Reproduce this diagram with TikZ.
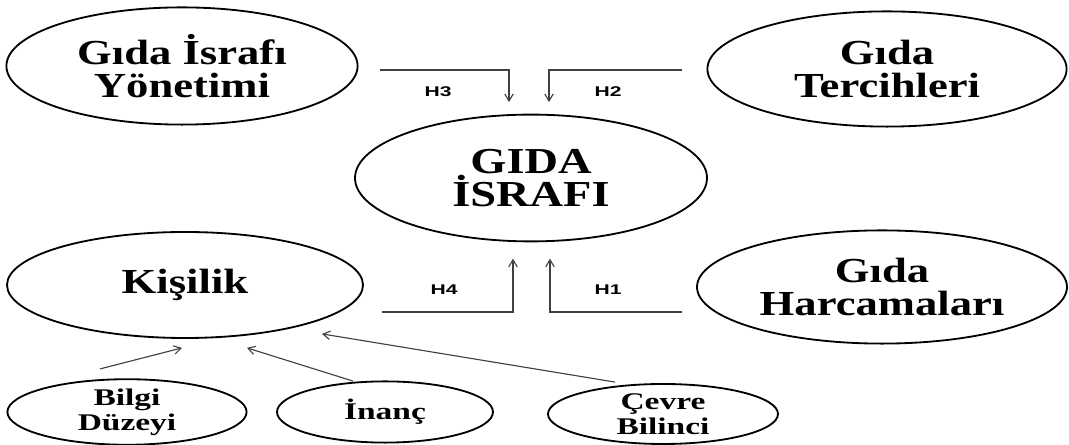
\documentclass[tikz,border=0pt]{standalone}
\usepackage{fontspec}
\setmainfont[FakeStretch=1.27]{Liberation Serif}
\newfontfamily\smallserif[FakeStretch=1.4]{Liberation Serif}
\newfontfamily\hfont[FakeStretch=1.5]{Liberation Sans}
\usetikzlibrary{shapes.geometric,arrows.meta}

\begin{document}
\begin{tikzpicture}[
    factor/.style={ellipse, draw, line width=1.3pt, inner sep=0pt, align=center,
        font=\bfseries\fontsize{25}{23.5}\selectfont},
    smallfactor/.style={factor, font=\smallserif\bfseries\fontsize{17}{17.5}\selectfont},
    hyp/.style={-{Straight Barb[length=5pt,width=6pt]}, draw=black!75, line width=0.8pt},
    hlabel/.style={font=\hfont\bfseries\fontsize{10}{12}\selectfont}
]
    \useasboundingbox (0,0) rectangle (26.725,11.125);

    % Top row
    \node[factor, minimum width=8.78cm, minimum height=2.93cm] (yonetim) at (4.55,9.475) {Gıda İsrafı\\Yönetimi};
    \node[factor, minimum width=8.98cm, minimum height=2.88cm] (tercih) at (22.175,9.4) {Gıda\\Tercihleri};

    % Centre
    \node[factor, minimum width=8.8cm, minimum height=3.17cm,
        font=\bfseries\fontsize{26}{24}\selectfont] (israf) at (13.275,6.675) {GIDA\\İSRAFI};

    % Lower row
    \node[factor, minimum width=8.9cm, minimum height=2.65cm] (kisilik) at (4.625,4.0) {Kişilik};
    \node[factor, minimum width=9.25cm, minimum height=2.83cm] (harcama) at (22.05,3.95) {Gıda\\Harcamaları};

    % Personality factors
    \node[smallfactor, minimum width=5.98cm, minimum height=1.53cm] (bilgi) at (3.175,0.825) {Bilgi\\Düzeyi};
    \node[smallfactor, minimum width=5.4cm, minimum height=1.53cm] (inanc) at (9.625,0.825) {İnanç};
    \node[smallfactor, minimum width=5.75cm, minimum height=1.5cm] (cevre) at (16.575,0.775) {Çevre\\Bilinci};

    % Hypotheses
    \coordinate (h3) at (9.5,9.375);
    \coordinate (h2) at (17.05,9.375);
    \coordinate (h4) at (9.55,3.325);
    \coordinate (h1) at (17.05,3.325);
    \draw[hyp] (h3) -| ([shift={(-0.55,0.29)}]israf.north);
    \draw[hyp] (h2) -| ([shift={(0.45,0.29)}]israf.north);
    \draw[hyp] (h4) -| ([shift={(-0.45,-0.41)}]israf.south);
    \draw[hyp] (h1) -| ([shift={(0.475,-0.41)}]israf.south);
    \node[hlabel] (lh3) at (10.95,8.825) {H3};
    \node[hlabel] (lh2) at (15.2,8.825) {H2};
    \node[hlabel] (lh4) at (11.1,3.875) {H4};
    \node[hlabel] (lh1) at (15.2,3.875) {H1};

    \draw[hyp] ([shift={(-0.675,0.235)}]bilgi.north) -- ([shift={(-0.075,-0.225)}]kisilik.south);
    \draw[hyp] ([shift={(-0.8,-0.015)}]inanc.north) -- ([shift={(1.55,-0.225)}]kisilik.south);
    \draw[hyp] ([shift={(-1.2,0.025)}]cevre.north) -- ([shift={(3.425,0.125)}]kisilik.south);
\end{tikzpicture}
\end{document}
